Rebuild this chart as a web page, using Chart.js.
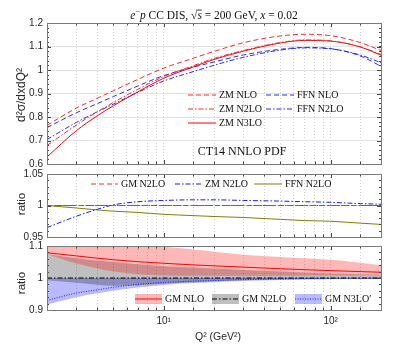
<!DOCTYPE html>
<html>
<head>
<meta charset="utf-8">
<script src="https://cdn.jsdelivr.net/npm/chart.js@4.4.1/dist/chart.umd.min.js"></script>
<style>
  html, body { margin: 0; padding: 0; background: #fff; }
  #wrap { position: relative; width: 415px; height: 363px; }
  #wrap canvas { position: absolute; left: 0; top: 0; }
</style>
</head>
<body>
<div id="wrap">
  <canvas id="top" width="415" height="363"></canvas>
  <canvas id="mid" width="415" height="363"></canvas>
  <canvas id="bot" width="415" height="363"></canvas>
</div>
<script>
// Q^2 points (GeV^2)
const q2 = [2, 3, 4, 5, 7, 10, 15, 20, 30, 50, 70, 100, 150, 200];
const xMajor = [10, 100];
const xMajorLabels = ['10¹', '10²'];

// top panel: d2sigma/dxdQ2
const zmNLO   = [0.765, 0.838, 0.880, 0.912, 0.960, 1.008, 1.050, 1.079, 1.116, 1.145, 1.152, 1.146, 1.117, 1.083];
const zmN2LO  = [0.679, 0.766, 0.822, 0.862, 0.918, 0.972, 1.018, 1.049, 1.083, 1.117, 1.128, 1.124, 1.099, 1.066];
const zmN3LO  = [0.630, 0.742, 0.805, 0.848, 0.907, 0.965, 1.013, 1.045, 1.080, 1.115, 1.126, 1.123, 1.098, 1.063];
const ffnNLO  = [0.755, 0.818, 0.857, 0.887, 0.932, 0.976, 1.012, 1.034, 1.064, 1.088, 1.096, 1.091, 1.060, 1.016];
const ffnN2LO = [0.704, 0.777, 0.822, 0.855, 0.905, 0.953, 0.993, 1.020, 1.054, 1.085, 1.094, 1.090, 1.064, 1.031];

// middle panel: ratio to GM N2LO
const gmN2LORatio  = [1, 1, 1, 1, 1, 1, 1, 1, 1, 1, 1, 1, 1, 1];
const zmN2LORatio  = [0.965, 0.983, 0.994, 1.001, 1.006, 1.008, 1.009, 1.009, 1.008, 1.007, 1.006, 1.005, 1.003, 1.002];
const ffnN2LORatio = [1.000, 0.996, 0.993, 0.991, 0.989, 0.986, 0.984, 0.9825, 0.981, 0.978, 0.976, 0.975, 0.972, 0.970];

// bottom panel: ratio with scale bands
const gmNLO     = [1.079, 1.069, 1.062, 1.057, 1.051, 1.046, 1.041, 1.038, 1.034, 1.029, 1.026, 1.023, 1.020, 1.018];
const gmNLOUp   = [1.130, 1.120, 1.113, 1.108, 1.103, 1.098, 1.089, 1.082, 1.073, 1.066, 1.062, 1.057, 1.048, 1.040];
const gmNLODn   = [1.075, 1.045, 1.030, 1.020, 1.012, 1.008, 1.007, 1.007, 1.007, 1.007, 1.008, 1.008, 1.008, 1.008];
const gmN2LO    = [1, 1, 1, 1, 1, 1, 1, 1, 1, 1, 1, 1, 1, 1];
const gmN2LOUp  = [1.075, 1.062, 1.055, 1.050, 1.043, 1.037, 1.033, 1.030, 1.025, 1.020, 1.017, 1.014, 1.012, 1.010];
const gmN2LODn  = [0.993, 0.985, 0.979, 0.976, 0.977, 0.982, 0.987, 0.990, 0.993, 0.995, 0.996, 0.997, 0.998, 0.998];
const gmN3LOp   = [0.930, 0.953, 0.963, 0.971, 0.980, 0.986, 0.990, 0.992, 0.995, 0.997, 0.998, 0.999, 0.999, 1.000];
const gmN3LOpUp = [0.999, 0.999, 0.999, 1.000, 1.000, 1.000, 1.000, 1.000, 1.001, 1.001, 1.001, 1.001, 1.001, 1.001];
const gmN3LOpDn = [0.917, 0.940, 0.952, 0.960, 0.970, 0.978, 0.984, 0.987, 0.991, 0.994, 0.996, 0.997, 0.998, 0.998];

const SANS = '"Liberation Sans", Arial, sans-serif';
const SERIF = '"Liberation Serif", "Times New Roman", serif';
const DASH = [5, 3], DASHDOT = [5, 2, 1.5, 2], DOT = [1, 1.5];

Chart.defaults.font.family = SANS;

const pts = ys => q2.map((x, i) => ({ x, y: ys[i] }));

function line(label, ys, color, dash, order = 0) {
  return { label, data: pts(ys), borderColor: color, borderWidth: 1, borderDash: dash,
    pointRadius: 0, cubicInterpolationMode: 'monotone', fill: false, order };
}
function band(ys, fillColor, fill) {
  return { label: '', data: pts(ys), borderWidth: 0, borderColor: 'transparent', backgroundColor: fillColor,
    pointRadius: 0, cubicInterpolationMode: 'monotone', fill, order: 5 };
}

// labelBox: height of the x axis box (labels are clipped to it)
function xScale(showLabels, labelBox) {
  return {
    type: 'logarithmic', min: 2, max: 200,
    afterFit: s => { s.height = labelBox; },
    grid: { color: '#d2d2d2', drawTicks: false },
    border: { display: false, dash: [1, 2] },
    ticks: {
      display: showLabels, autoSkip: false, maxRotation: 0, padding: 5,
      color: '#262626', font: { size: 10 },
      callback: v => {
        const k = xMajor.findIndex(m => Math.abs(v - m) < 1e-6 * m);
        return k >= 0 ? xMajorLabels[k] : '';
      }
    }
  };
}
function yScale(min, max, step) {
  return {
    min, max,
    afterFit: s => { s.width = 47; },
    grid: { color: '#e2e2e2', drawTicks: false },
    border: { display: false },
    ticks: { stepSize: step, padding: 4, color: '#262626', font: { size: 10 },
      callback: v => String(+v.toFixed(2)) }
  };
}

// frame, inner ticks, legend keys and free text of a panel
function decor(cfg) {
  return {
    id: 'decor',
    afterDraw(chart) {
      const { ctx, chartArea: a, scales } = chart;
      ctx.save();
      // inner ticks
      ctx.strokeStyle = '#444';
      ctx.lineWidth = 1;
      ctx.beginPath();
      scales.x.ticks.forEach(t => {
        const px = Math.round(scales.x.getPixelForValue(t.value)) + 0.5;
        const len = xMajor.some(m => Math.abs(t.value - m) < 1e-6 * m) ? 4 : 2.5;
        ctx.moveTo(px, a.bottom); ctx.lineTo(px, a.bottom - len);
        ctx.moveTo(px, a.top); ctx.lineTo(px, a.top + len);
      });
      const ys = scales.y;
      const n = Math.round((ys.max - ys.min) / cfg.minorY);
      for (let k = 0; k <= n; k++) {
        const py = Math.round(ys.getPixelForValue(ys.min + k * cfg.minorY)) + 0.5;
        ctx.moveTo(a.left, py); ctx.lineTo(a.left + 2, py);
        ctx.moveTo(a.right, py); ctx.lineTo(a.right - 2, py);
      }
      ys.ticks.forEach(t => {
        const py = Math.round(ys.getPixelForValue(t.value)) + 0.5;
        ctx.moveTo(a.left, py); ctx.lineTo(a.left + 4, py);
        ctx.moveTo(a.right, py); ctx.lineTo(a.right - 4, py);
      });
      ctx.stroke();
      // box
      ctx.strokeStyle = '#7a7a7a';
      ctx.strokeRect(Math.round(a.left) + 0.5, Math.round(a.top) + 0.5,
        Math.round(a.right - a.left), Math.round(a.bottom - a.top));

      // legend keys
      (cfg.keys || []).forEach(it => {
        const ds = chart.data.datasets[it.ds];
        if (it.band != null) {
          ctx.fillStyle = chart.data.datasets[it.band].backgroundColor;
          ctx.fillRect(it.x, it.y - 5, it.w, 10);
        }
        ctx.strokeStyle = ds.borderColor;
        ctx.lineWidth = ds.borderWidth;
        ctx.setLineDash(ds.borderDash || []);
        ctx.beginPath();
        ctx.moveTo(it.x, it.y); ctx.lineTo(it.x + it.w, it.y);
        ctx.stroke();
        ctx.setLineDash([]);
        ctx.fillStyle = '#111';
        ctx.font = '10px ' + SERIF;
        ctx.textAlign = 'left';
        ctx.textBaseline = 'middle';
        ctx.fillText(ds.label, it.x + it.w + 3, it.y + 0.5);
      });

      // plain texts
      (cfg.texts || []).forEach(tx => {
        ctx.save();
        ctx.translate(tx.x, tx.y);
        if (tx.rot) ctx.rotate(-Math.PI / 2);
        ctx.font = tx.font;
        ctx.fillStyle = tx.color || '#262626';
        ctx.textAlign = 'center';
        ctx.textBaseline = 'middle';
        ctx.fillText(tx.text, 0, 0);
        ctx.restore();
      });

      // rich title
      if (cfg.title) {
        const size = cfg.title.size;
        const fontOf = r => (r.i ? 'italic ' : '') + (r.sup ? size * 0.7 : size) + 'px ' + SERIF;
        let total = 0;
        cfg.title.runs.forEach(r => { ctx.font = fontOf(r); r.w = ctx.measureText(r.t).width; total += r.w; });
        let x = cfg.title.x - total / 2;
        ctx.fillStyle = '#111';
        ctx.textAlign = 'left';
        ctx.textBaseline = 'alphabetic';
        cfg.title.runs.forEach(r => {
          ctx.font = fontOf(r);
          ctx.fillText(r.t, x, r.sup ? cfg.title.y - size * 0.4 : cfg.title.y);
          if (r.bar) {
            ctx.strokeStyle = '#111';
            ctx.lineWidth = 0.8;
            ctx.beginPath();
            ctx.moveTo(x - 1, cfg.title.y - size * 0.78);
            ctx.lineTo(x + r.w, cfg.title.y - size * 0.78);
            ctx.stroke();
          }
          x += r.w;
        });
      }
      ctx.restore();
    }
  };
}

function makeChart(id, datasets, x, y, padding, deco) {
  return new Chart(document.getElementById(id), {
    type: 'line',
    data: { datasets },
    options: {
      responsive: false, animation: false, devicePixelRatio: 1, events: [],
      parsing: false, normalized: true,
      layout: { padding },
      scales: { x, y },
      plugins: { legend: { display: false }, tooltip: { enabled: false } }
    },
    plugins: [decor(deco)]
  });
}

// top panel
makeChart('top', [
  line('ZM NLO', zmNLO, '#ff2a2a', DASH),
  line('ZM N2LO', zmN2LO, '#ff2a2a', DASHDOT),
  line('ZM N3LO', zmN3LO, '#ff0000', []),
  line('FFN NLO', ffnNLO, '#2a2aff', DASH),
  line('FFN N2LO', ffnN2LO, '#2a2aff', DASHDOT)
], xScale(false, 0), yScale(0.6, 1.2, 0.1),
  { left: 0, right: 34, top: 23, bottom: 199 },
  {
    minorY: 0.02,
    keys: [
      { ds: 0, x: 188, y: 95, w: 28 },
      { ds: 1, x: 188, y: 109, w: 28 },
      { ds: 2, x: 188, y: 123, w: 28 },
      { ds: 3, x: 266, y: 95, w: 28 },
      { ds: 4, x: 266, y: 109, w: 28 }
    ],
    texts: [
      { text: 'd²σ/dxdQ²', x: 22, y: 95, rot: true, font: '12px ' + SANS },
      { text: 'CT14 NNLO PDF', x: 242, y: 152, font: '12px ' + SERIF, color: '#111' }
    ],
    title: {
      x: 214, y: 19, size: 11.5,
      runs: [
        { t: 'e', i: 1 }, { t: '−', sup: 1 }, { t: 'p', i: 1 }, { t: ' CC DIS, ' },
        { t: '√' }, { t: 's', i: 1, bar: 1 }, { t: ' = 200 GeV, ' },
        { t: 'x', i: 1 }, { t: ' = 0.02' }
      ]
    }
  });

// middle panel
makeChart('mid', [
  line('GM N2LO', gmN2LORatio, '#ff2a2a', DASH, 0),
  line('ZM N2LO', zmN2LORatio, '#1a1aff', DASHDOT, 0),
  line('FFN N2LO', ffnN2LORatio, '#808000', [], 0),
  line('', gmN2LORatio, '#666666', DASHDOT, 1)
], xScale(false, 0), yScale(0.95, 1.05, 0.05),
  { left: 0, right: 34, top: 174, bottom: 126 },
  {
    minorY: 0.01,
    keys: [
      { ds: 0, x: 91, y: 184, w: 27 },
      { ds: 1, x: 175, y: 184, w: 27 },
      { ds: 2, x: 254, y: 184, w: 28 }
    ],
    texts: [
      { text: 'ratio', x: 22, y: 204, rot: true, font: '11.5px ' + SANS }
    ]
  });

// bottom panel
makeChart('bot', [
  line('GM NLO', gmNLO, '#ff0000', [], 0),
  line('GM N2LO', gmN2LO, '#000000', DASHDOT, 0),
  line('GM N3LO′', gmN3LOp, '#1a1aff', DOT, 0),
  band(gmNLOUp, 'rgba(255,0,0,0.28)', '+1'),
  band(gmNLODn, 'transparent', false),
  band(gmN2LOUp, 'rgba(0,0,0,0.25)', '+1'),
  band(gmN2LODn, 'transparent', false),
  band(gmN3LOpUp, 'rgba(0,0,255,0.27)', '+1'),
  band(gmN3LOpDn, 'transparent', false)
], xScale(true, 22), yScale(0.9, 1.1, 0.1),
  { left: 0, right: 34, top: 246, bottom: 31 },
  {
    minorY: 0.02,
    keys: [
      { ds: 0, band: 3, x: 135, y: 299, w: 27 },
      { ds: 1, band: 5, x: 212, y: 299, w: 27 },
      { ds: 2, band: 7, x: 295, y: 299, w: 27 }
    ],
    texts: [
      { text: 'ratio', x: 22, y: 283, rot: true, font: '11.5px ' + SANS },
      { text: 'Q² (GeV²)', x: 218, y: 337, font: '10.5px ' + SANS }
    ]
  });
</script>
</body>
</html>
